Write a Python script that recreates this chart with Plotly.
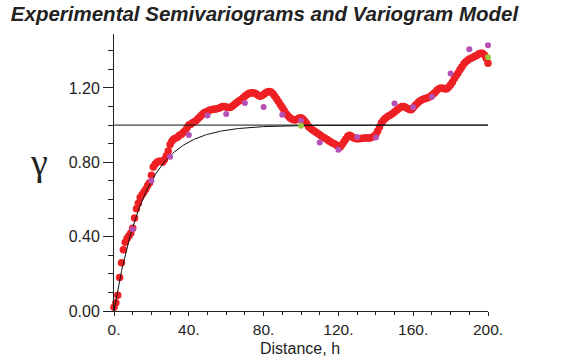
import numpy as np
import plotly.graph_objects as go

# Dense experimental semivariogram (red), lag step 1
h_dense = list(range(0, 201))
gamma_dense = [
    0.02, 0.045, 0.085, 0.18, 0.26, 0.33, 0.37, 0.39, 0.405, 0.42,
    0.445, 0.50, 0.55, 0.58, 0.61, 0.625, 0.64, 0.655, 0.675, 0.69,
    0.73, 0.775, 0.79, 0.80, 0.805, 0.805, 0.80, 0.815, 0.835, 0.86,
    0.895, 0.915, 0.925, 0.93, 0.935, 0.945, 0.95, 0.96, 0.97, 0.985,
    1.00, 1.005, 1.012, 1.018, 1.025, 1.035, 1.045, 1.055, 1.065, 1.07,
    1.075, 1.08, 1.083, 1.085, 1.085, 1.088, 1.09, 1.095, 1.10, 1.10,
    1.097, 1.094, 1.095, 1.10, 1.108, 1.116, 1.124, 1.131, 1.138, 1.146,
    1.155, 1.163, 1.17, 1.173, 1.174, 1.172, 1.168, 1.16, 1.155, 1.158,
    1.165, 1.172, 1.178, 1.181, 1.178, 1.168, 1.155, 1.14, 1.126, 1.11,
    1.095, 1.078, 1.063, 1.05, 1.04, 1.033, 1.029, 1.028, 1.032, 1.038,
    1.04, 1.033, 1.022, 1.008, 0.993, 0.983, 0.975, 0.968, 0.962, 0.955,
    0.948, 0.94, 0.934, 0.928, 0.922, 0.915, 0.909, 0.903, 0.898, 0.892,
    0.886, 0.882, 0.895, 0.91, 0.925, 0.94, 0.945, 0.94, 0.932, 0.928,
    0.926, 0.926, 0.928, 0.929, 0.93, 0.93, 0.93, 0.931, 0.934, 0.94,
    0.95, 0.968, 0.99, 1.012, 1.025, 1.035, 1.043, 1.05, 1.056, 1.063,
    1.07, 1.078, 1.086, 1.094, 1.10, 1.10, 1.094, 1.089, 1.084, 1.083,
    1.093, 1.105, 1.115, 1.125, 1.132, 1.138, 1.142, 1.145, 1.148, 1.152,
    1.16, 1.17, 1.18, 1.19, 1.197, 1.20, 1.198, 1.194, 1.195, 1.205,
    1.217, 1.232, 1.25, 1.265, 1.28, 1.298, 1.313, 1.328, 1.34, 1.348,
    1.355, 1.36, 1.365, 1.37, 1.375, 1.382, 1.387, 1.387, 1.378, 1.36,
    1.333,
]

# Coarser experimental semivariogram (purple), lag step 10
h_mid = [10, 20, 30, 40, 50, 60, 70, 80, 90, 100,
         110, 120, 130, 140, 150, 160, 170, 180, 190, 200]
gamma_mid = [0.44, 0.70, 0.83, 0.947, 1.051, 1.06, 1.119, 1.098, 1.055, 1.023,
             0.906, 0.868, 0.936, 0.933, 1.116, 1.096, 1.153, 1.277, 1.408, 1.43]

# Coarsest experimental semivariogram (green), lag step 100
h_coarse = [100, 200]
gamma_coarse = [0.996, 1.365]

# Exponential variogram model
sill = 1.0
model_range = 50.0
h_model = np.linspace(0, 200, 401)
gamma_model = sill * (1 - np.exp(-3 * h_model / model_range))

x_tickvals = [0, 40, 80, 120, 160, 200]
x_ticktext = ["0.", "40.", "80.", "120.", "160.", "200."]
y_tickvals = [0.0, 0.4, 0.8, 1.2]
y_ticktext = ["0.00", "0.40", "0.80", "1.20"]

fig = go.Figure()
fig.add_trace(go.Scatter(x=h_dense, y=gamma_dense, mode="markers",
                         marker=dict(color="#EE2024", size=7.5, line=dict(width=0)),
                         cliponaxis=False, showlegend=False))
fig.add_trace(go.Scatter(x=[0, 200], y=[sill, sill], mode="lines",
                         line=dict(color="#111111", width=1),
                         cliponaxis=False, showlegend=False))
fig.add_trace(go.Scatter(x=h_model, y=gamma_model, mode="lines",
                         line=dict(color="#111111", width=1),
                         cliponaxis=False, showlegend=False))
fig.add_trace(go.Scatter(x=h_mid, y=gamma_mid, mode="markers",
                         marker=dict(color="#B650B4", size=6, line=dict(width=0)),
                         cliponaxis=False, showlegend=False))
fig.add_trace(go.Scatter(x=h_coarse, y=gamma_coarse, mode="markers",
                         marker=dict(color="#98C83C", size=6, line=dict(width=0)),
                         cliponaxis=False, showlegend=False))

fig.update_layout(
    width=567, height=360,
    margin=dict(l=114, r=79, t=34, b=49),
    paper_bgcolor="white", plot_bgcolor="white",
    font=dict(family="Liberation Sans, Arial, sans-serif", color="#222222"),
    title=dict(text="<b><i>Experimental Semivariograms and Variogram Model</i></b>",
               x=264.5 / 567, y=1 - 14 / 360, xanchor="center", yanchor="middle",
               font=dict(size=20.5, color="#222222")),
    xaxis=dict(range=[0, 200], showgrid=False, zeroline=False,
               showline=True, linecolor="#222222", linewidth=1,
               ticks="outside", ticklen=4, tickcolor="#222222",
               tickvals=x_tickvals, ticktext=x_ticktext,
               tickfont=dict(size=15.5),
               minor=dict(dtick=10, tick0=0, ticks="outside", ticklen=3, tickcolor="#222222")),
    yaxis=dict(range=[0, 1.49], showgrid=False, zeroline=False,
               showline=True, linecolor="#222222", linewidth=1,
               ticks="outside", ticklen=10, tickcolor="#222222",
               tickvals=y_tickvals, ticktext=y_ticktext,
               tickfont=dict(size=16),
               minor=dict(dtick=0.1, tick0=0, ticks="outside", ticklen=5, tickcolor="#222222")),
    annotations=[
        dict(text="γ", xref="paper", yref="paper",
             x=(39 - 114) / 374, y=(311 - 162) / 277,
             xanchor="center", yanchor="middle", showarrow=False,
             font=dict(family="Liberation Serif, Times New Roman, serif", size=38, color="#222222")),
        dict(text="Distance, h", xref="paper", yref="paper",
             x=(300 - 114) / 374, y=(311 - 348) / 277,
             xanchor="center", yanchor="middle", showarrow=False,
             font=dict(size=16, color="#222222")),
    ],
)

fig.write_html("out.html")
